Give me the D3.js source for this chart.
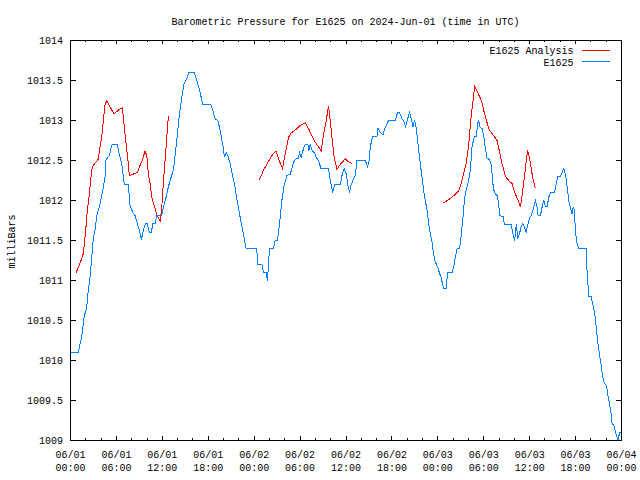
<!DOCTYPE html>
<html><head><meta charset="utf-8">
<script src="https://cdn.jsdelivr.net/npm/d3@7"></script>
<style>html,body{margin:0;padding:0;background:#fff;} svg{display:block;}</style>
</head><body>
<svg id="chart" width="640" height="480"></svg>
<script>
// ---------- DATA ----------
const chartTitle = "Barometric Pressure for E1625 on 2024-Jun-01 (time in UTC)";
const yAxisLabel = "milliBars";
const seriesNames = ["E1625 Analysis", "E1625"];

// x tick labels (every 6 hours from 2024-06-01 00:00 UTC)
const xTickHours = [0, 6, 12, 18, 24, 30, 36, 42, 48, 54, 60, 66, 72];
const xTickDates = ["06/01","06/01","06/01","06/01","06/02","06/02","06/02","06/02","06/03","06/03","06/03","06/03","06/04"];
const xTickTimes = ["00:00","06:00","12:00","18:00","00:00","06:00","12:00","18:00","00:00","06:00","12:00","18:00","00:00"];
const xMinorHours = [2,4,8,10,14,16,20,22,26,28,32,34,38,40,44,46,50,52,56,58,62,64,68,70];

const yTicks = [1009, 1009.5, 1010, 1010.5, 1011, 1011.5, 1012, 1012.5, 1013, 1013.5, 1014];
const yTickLabels = ["1009","1009.5","1010","1010.5","1011","1011.5","1012","1012.5","1013","1013.5","1014"];

// Observed pressure (E1625), hours since 06/01 00:00
const obsHours = [0, 1.02, 1.24, 1.46, 1.77, 2.12, 2.33, 2.55, 2.77, 2.98,
 3.20, 3.43, 3.64, 3.86, 4.08, 4.29, 4.51, 4.60, 4.73, 5.07,
 5.39, 5.52, 6.12, 6.38, 6.70, 7.04, 7.56, 7.78, 8.14, 8.44,
 8.74, 9.00, 9.26, 9.52, 9.78, 10.04, 10.31, 10.57, 10.75, 11.05,
 11.27, 11.93, 12.14, 12.49, 12.79, 13.01, 13.45, 13.89, 14.23, 14.54,
 14.84, 15.20, 15.46, 16.15, 16.51, 16.94, 17.29, 18.34, 18.68, 18.90,
 19.25, 19.55, 19.91, 20.12, 20.34, 20.56, 20.86, 21.21, 21.42, 21.74,
 22.17, 22.60, 22.95, 24.35, 24.43, 25.01, 25.22, 25.57, 25.74, 26.00,
 26.52, 26.75, 27.05, 27.31, 27.62, 27.92, 28.28, 28.71, 28.93, 29.14,
 29.49, 29.79, 29.92, 30.15, 30.37, 30.58, 30.80, 31.02, 31.15, 31.32,
 31.58, 31.85, 32.11, 32.41, 32.72, 33.72, 33.94, 34.16, 34.24, 34.50,
 35.25, 35.47, 35.77, 36.03, 36.25, 36.46, 36.65, 36.91, 37.21, 37.43,
 38.52, 38.82, 39.00, 39.17, 39.47, 40.05, 40.18, 40.48, 40.83, 41.00,
 41.36, 41.56, 42.44, 42.74, 43.00, 43.32, 43.53, 43.79, 44.05, 44.31,
 44.62, 44.76, 44.96, 45.19, 45.49, 45.71, 45.93, 46.14, 46.36, 46.59,
 46.80, 47.02, 47.24, 47.45, 47.67, 47.97, 48.23, 48.42, 48.76, 49.07,
 49.28, 49.86, 50.07, 50.29, 50.51, 50.85, 51.03, 51.29, 51.50, 51.82,
 52.03, 52.25, 52.47, 52.77, 53.03, 53.20, 53.34, 53.47, 53.78, 53.99,
 54.21, 54.43, 54.77, 55.00, 55.22, 55.39, 55.74, 55.95, 56.08, 56.53,
 56.70, 57.57, 57.83, 58.04, 58.26, 58.43, 58.66, 58.88, 59.09, 59.31,
 59.53, 59.74, 60.00, 60.23, 60.53, 60.75, 60.97, 61.10, 61.40, 61.63,
 61.84, 62.06, 62.28, 62.49, 62.71, 63.24, 63.46, 63.67, 64.02, 64.24,
 64.45, 64.67, 64.90, 65.11, 65.33, 65.55, 65.68, 65.85, 65.98, 66.20,
 66.41, 67.38, 67.51, 67.64, 67.72, 68.04, 68.17, 68.38, 68.60, 68.73,
 68.90, 69.12, 69.34, 69.55, 69.77, 70.04, 70.26, 70.47, 70.65, 70.78,
 70.99, 71.21, 71.44, 71.57, 71.74, 72.00];
const obsValues = [1010.1, 1010.1, 1010.2, 1010.29, 1010.54, 1010.67, 1010.88, 1011.04, 1011.28, 1011.53,
 1011.63, 1011.81, 1011.88, 1011.96, 1012.06, 1012.16, 1012.29, 1012.5, 1012.52, 1012.56,
 1012.69, 1012.7, 1012.7, 1012.58, 1012.46, 1012.2, 1012.2, 1011.94, 1011.85, 1011.81,
 1011.71, 1011.63, 1011.51, 1011.63, 1011.71, 1011.71, 1011.6, 1011.6, 1011.71, 1011.71,
 1011.81, 1011.81, 1011.92, 1012.04, 1012.17, 1012.25, 1012.38, 1012.75, 1013.08, 1013.29,
 1013.46, 1013.52, 1013.6, 1013.6, 1013.5, 1013.35, 1013.2, 1013.2, 1013.1, 1013.02,
 1013.0, 1012.88, 1012.69, 1012.54, 1012.6, 1012.56, 1012.46, 1012.29, 1012.21, 1012.02,
 1011.79, 1011.58, 1011.4, 1011.4, 1011.2, 1011.2, 1011.1, 1011.1, 1011.0, 1011.4,
 1011.4, 1011.5, 1011.5, 1011.71, 1012.0, 1012.19, 1012.31, 1012.33, 1012.4, 1012.48,
 1012.52, 1012.52, 1012.6, 1012.54, 1012.62, 1012.69, 1012.7, 1012.7, 1012.62, 1012.7,
 1012.62, 1012.6, 1012.54, 1012.5, 1012.4, 1012.4, 1012.25, 1012.15, 1012.1, 1012.2,
 1012.2, 1012.31, 1012.4, 1012.33, 1012.19, 1012.1, 1012.19, 1012.25, 1012.31, 1012.5,
 1012.5, 1012.42, 1012.48, 1012.67, 1012.8, 1012.8, 1012.9, 1012.85, 1012.82, 1012.88,
 1012.96, 1013.0, 1013.0, 1013.1, 1013.1, 1013.02, 1013.0, 1012.92, 1013.02, 1013.1,
 1012.98, 1012.92, 1013.01, 1012.9, 1012.63, 1012.46, 1012.29, 1012.13, 1012.0, 1011.88,
 1011.71, 1011.58, 1011.48, 1011.33, 1011.23, 1011.17, 1011.09, 1011.04, 1010.9, 1010.9,
 1011.1, 1011.1, 1011.17, 1011.29, 1011.4, 1011.4, 1011.54, 1011.79, 1012.04, 1012.17,
 1012.25, 1012.38, 1012.67, 1012.8, 1012.8, 1012.96, 1013.0, 1012.92, 1012.9, 1012.81,
 1012.65, 1012.53, 1012.51, 1012.44, 1012.19, 1012.1, 1012.06, 1011.96, 1011.81, 1011.8,
 1011.7, 1011.7, 1011.58, 1011.5, 1011.71, 1011.52, 1011.58, 1011.67, 1011.71, 1011.67,
 1011.6, 1011.69, 1011.79, 1011.81, 1011.92, 1012.0, 1011.92, 1011.81, 1011.81, 1011.92,
 1012.01, 1011.92, 1011.92, 1012.04, 1012.1, 1012.1, 1012.2, 1012.3, 1012.3, 1012.35,
 1012.4, 1012.33, 1012.17, 1012.0, 1011.9, 1011.83, 1011.92, 1011.88, 1011.6, 1011.46,
 1011.4, 1011.4, 1011.1, 1010.92, 1010.8, 1010.8, 1010.73, 1010.65, 1010.52, 1010.38,
 1010.23, 1010.08, 1009.94, 1009.79, 1009.71, 1009.69, 1009.54, 1009.44, 1009.33, 1009.2,
 1009.2, 1009.1, 1009.04, 1009.0, 1009.1, 1009.1];

// Analysis (E1625 Analysis), three runs
const anaHours1 = [0.72, 1.02, 1.33, 1.60, 1.77, 1.99, 2.20, 2.42, 2.77, 2.98,
 3.34, 3.64, 3.86, 4.08, 4.29, 4.51, 4.73, 5.17, 5.69, 6.25,
 6.77, 6.91, 7.13, 7.35, 7.56, 7.69, 8.21, 8.74, 9.09, 9.44,
 9.74, 9.97, 10.18, 10.40, 10.62, 10.92, 11.27, 11.71, 11.93, 12.14,
 12.49, 12.79];
const anaValues1 = [1011.10, 1011.16, 1011.24, 1011.30, 1011.42, 1011.63, 1011.88, 1012.04, 1012.38, 1012.44,
 1012.48, 1012.52, 1012.67, 1012.79, 1013.0, 1013.19, 1013.25, 1013.17, 1013.08, 1013.13,
 1013.16, 1013.04, 1012.83, 1012.63, 1012.46, 1012.31, 1012.33, 1012.35, 1012.44, 1012.52,
 1012.62, 1012.56, 1012.33, 1012.21, 1012.04, 1011.94, 1011.83, 1011.74, 1011.92, 1012.23,
 1012.67, 1013.06];
const anaHours2 = [24.69, 25.22, 25.87, 26.31, 26.84, 27.18, 27.70, 28.05, 28.49, 28.80,
 29.36, 30.02, 30.67, 31.10, 31.55, 31.98, 32.41, 32.76, 33.06, 33.38,
 33.72, 33.85, 34.16, 34.46, 34.81, 35.25, 35.90, 36.25, 36.78];
const anaValues2 = [1012.26, 1012.38, 1012.49, 1012.56, 1012.62, 1012.52, 1012.4, 1012.58, 1012.79, 1012.84,
 1012.88, 1012.94, 1012.97, 1012.9, 1012.81, 1012.73, 1012.67, 1012.62, 1012.83, 1012.98,
 1013.18, 1013.08, 1012.79, 1012.54, 1012.39, 1012.45, 1012.52, 1012.49, 1012.46];
const anaHours3 = [48.76, 49.41, 50.07, 50.72, 51.03, 51.37, 51.69, 52.03, 52.34, 52.60,
 52.81, 53.20, 53.69, 53.99, 54.34, 54.74, 55.30, 55.74, 56.08, 56.39,
 56.83, 57.26, 57.70, 58.14, 58.57, 58.79, 59.01, 59.31, 59.53, 59.74,
 60.00, 60.32, 60.53, 60.75];
const anaValues3 = [1011.97, 1012.01, 1012.06, 1012.12, 1012.21, 1012.33, 1012.46, 1012.69, 1013.04, 1013.25,
 1013.43, 1013.35, 1013.25, 1013.13, 1013.0, 1012.88, 1012.81, 1012.75, 1012.6, 1012.46,
 1012.3, 1012.25, 1012.21, 1012.08, 1011.98, 1011.92, 1012.06, 1012.29, 1012.48, 1012.63,
 1012.52, 1012.33, 1012.23, 1012.15];

// ---------- DRAWING ----------
const W = 640, H = 480;
const FONT = "'Liberation Mono','DejaVu Sans Mono',monospace";
const FONT_SIZE = 11;
const COLORS = { analysis: "#ff0000", obs: "#0080ff" };
const CHAR_W = 6;

const svg = d3.select("#chart");
svg.append("rect").attr("width", W).attr("height", H).attr("fill", "#fff");

const x = d3.scaleLinear().domain([0, 72]).range([70, 621]);
const y = d3.scaleLinear().domain([1009, 1014]).range([440, 40]);

function fitText(sel) {
  sel.each(function() {
    const t = d3.select(this);
    const s = t.text();
    t.attr("textLength", s.length * CHAR_W).attr("lengthAdjust", "spacingAndGlyphs");
  });
  return sel;
}
function styleText(sel) {
  return sel.attr("font-family", FONT).attr("font-size", FONT_SIZE).attr("fill", "#000");
}

// data lines
const zip = (hs, vs) => hs.map((h, i) => ({ h, v: vs[i] }));
const line = d3.line().x(d => x(d.h) + 0.5).y(d => y(d.v) + 0.5);

const plot = svg.append("g");
[[anaHours1, anaValues1], [anaHours2, anaValues2], [anaHours3, anaValues3]].forEach(([hs, vs]) => {
  plot.append("path").datum(zip(hs, vs)).attr("d", line)
    .attr("fill", "none").attr("stroke", COLORS.analysis).attr("stroke-width", 1)
    .attr("shape-rendering", "crispEdges");
});
plot.append("path").datum(zip(obsHours, obsValues)).attr("d", line)
  .attr("fill", "none").attr("stroke", COLORS.obs).attr("stroke-width", 1)
  .attr("shape-rendering", "crispEdges");

// axes (ticks inward, mirrored)
function cleanAxis(g) {
  g.select(".domain").remove();
  g.selectAll("line").attr("shape-rendering", "crispEdges").attr("stroke", "#000");
}
svg.append("g").attr("transform", "translate(0,440)")
  .call(d3.axisBottom(x).tickValues(xTickHours).tickSizeInner(-4).tickSizeOuter(0).tickFormat(""))
  .call(cleanAxis);
svg.append("g").attr("transform", "translate(0,440)")
  .call(d3.axisBottom(x).tickValues(xMinorHours).tickSizeInner(-2).tickSizeOuter(0).tickFormat(""))
  .call(cleanAxis);
svg.append("g").attr("transform", "translate(0,40)")
  .call(d3.axisTop(x).tickValues(xTickHours).tickSizeInner(-4).tickSizeOuter(0).tickFormat(""))
  .call(cleanAxis);
svg.append("g").attr("transform", "translate(0,40)")
  .call(d3.axisTop(x).tickValues(xMinorHours).tickSizeInner(-2).tickSizeOuter(0).tickFormat(""))
  .call(cleanAxis);
svg.append("g").attr("transform", "translate(621,0)")
  .call(d3.axisRight(y).tickValues(yTicks).tickSizeInner(-5).tickSizeOuter(0).tickFormat(""))
  .call(cleanAxis);
const yAxisG = svg.append("g").attr("transform", "translate(70,0)")
  .call(d3.axisLeft(y).tickValues(yTicks).tickSizeInner(-6).tickSizeOuter(0).tickPadding(7)
        .tickFormat((d, i) => yTickLabels[i]))
  .call(cleanAxis);
yAxisG.selectAll("text").call(styleText).call(fitText);
yAxisG.attr("font-family", null).attr("font-size", null);

// frame
svg.append("rect").attr("x", 70.5).attr("y", 40.5).attr("width", 551).attr("height", 400)
  .attr("fill", "none").attr("stroke", "#000").attr("stroke-width", 1).attr("shape-rendering", "crispEdges");

// x tick labels (two lines)
const xl = svg.append("g");
xTickHours.forEach((h, i) => {
  xl.append("text").attr("x", x(h) + 0.5).attr("y", 458).attr("text-anchor", "middle")
    .text(xTickDates[i]).call(styleText).call(fitText);
  xl.append("text").attr("x", x(h) + 0.5).attr("y", 470.5).attr("text-anchor", "middle")
    .text(xTickTimes[i]).call(styleText).call(fitText);
});

// title
svg.append("text").attr("x", 345.5).attr("y", 24.5).attr("text-anchor", "middle")
  .text(chartTitle).call(styleText).call(fitText);

// y label
svg.append("text").attr("transform", "translate(14.5,241.5) rotate(-90)").attr("text-anchor", "middle")
  .text(yAxisLabel).call(styleText).call(fitText);

// legend
const legendRows = [
  { name: seriesNames[0], color: COLORS.analysis, ty: 54, ly: 50.5 },
  { name: seriesNames[1], color: COLORS.obs, ty: 66, ly: 61.5 }
];
legendRows.forEach(r => {
  svg.append("text").attr("x", 573.5).attr("y", r.ty).attr("text-anchor", "end")
    .text(r.name).call(styleText).call(fitText);
  svg.append("line").attr("x1", 582).attr("x2", 610).attr("y1", r.ly).attr("y2", r.ly)
    .attr("stroke", r.color).attr("stroke-width", 1).attr("shape-rendering", "crispEdges");
});
</script>
</body></html>
